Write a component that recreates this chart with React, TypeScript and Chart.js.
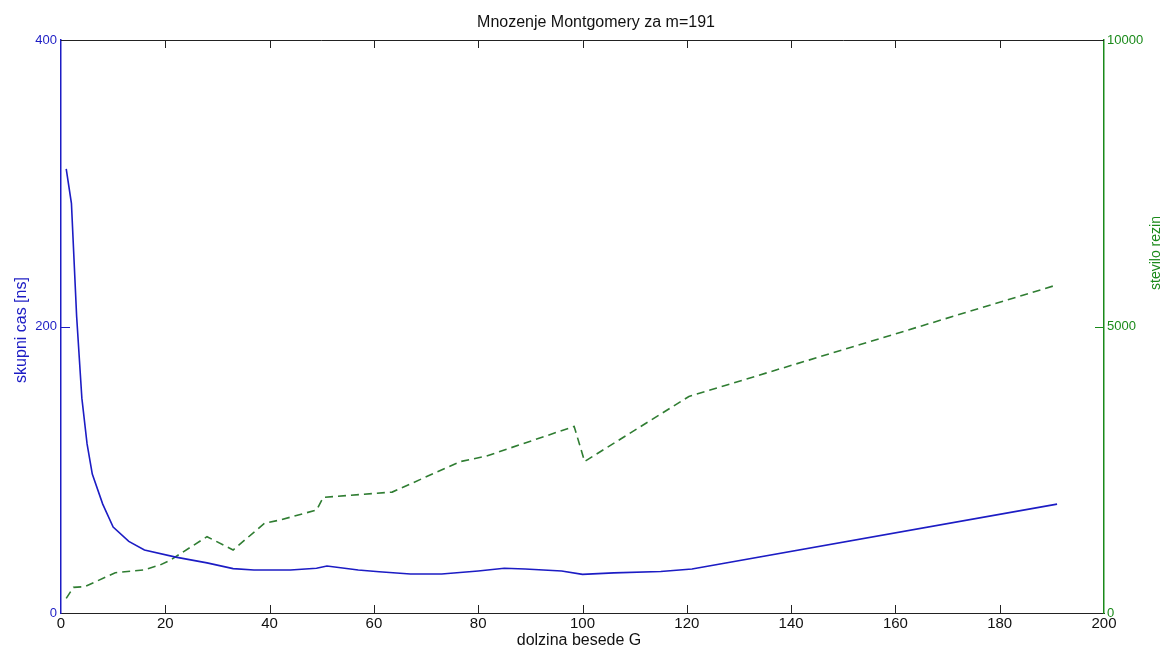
import React, { useEffect, useRef } from "react";
import { Chart, registerables } from "chart.js";

Chart.register(...registerables);

// Blue series: total time [ns] vs word length G
const timeG = [1, 2, 3, 4, 5, 6, 8, 10, 13, 16, 22, 28, 33, 37, 44, 49, 51, 57, 61, 67, 73, 80, 85, 89, 96, 100, 106, 115, 121, 191];
const timeNs = [310, 286, 207, 150, 118, 97, 76, 60, 50, 44, 39, 35, 31, 30, 30, 31.2, 32.8, 30, 28.8, 27.2, 27.2, 29.3, 31.2, 30.7, 29.3, 27, 28, 29, 30.7, 76];

// Green series: number of slices vs word length G
const sliceG = [1, 2.4, 4.6, 10.4, 15.8, 19, 21, 28, 33, 39, 42, 49, 50.3, 63.5, 76.5, 81.6, 98.4, 100.4, 120.4, 191];
const sliceCount = [256, 448, 460, 704, 750, 838, 925, 1332, 1099, 1565, 1623, 1797, 2019, 2110, 2641, 2740, 3256, 2645, 3779, 5727];

const xTicks = [0, 20, 40, 60, 80, 100, 120, 140, 160, 180, 200];
const leftTicks = [0, 200, 400];
const rightTicks = [0, 5000, 10000];

const TITLE = "Mnozenje Montgomery za m=191";
const X_LABEL = "dolzina besede G";
const Y_LABEL = "skupni cas [ns]";
const Y1_LABEL = "stevilo rezin";

const BLUE = "#1c1cc4";
const GREEN = "#2f7d32";
const AXIS_GREEN = "#1a8a1a";
const FONT = "'Liberation Sans', Arial, sans-serif";

const decor = {
  id: "decor",
  afterDraw(chart: any) {
    const { ctx, chartArea } = chart;
    const { left, right, top, bottom } = chartArea;
    const xs = chart.scales.x;
    const ys = chart.scales.y;
    const y1 = chart.scales.y1;
    ctx.save();
    // top border
    ctx.strokeStyle = "#222";
    ctx.lineWidth = 1;
    ctx.beginPath();
    ctx.moveTo(left, top + 0.5);
    ctx.lineTo(right, top + 0.5);
    ctx.stroke();
    // inward x ticks
    xTicks.forEach((t) => {
      if (t === 0 || t === 200) return;
      const px = Math.round(xs.getPixelForValue(t)) + 0.5;
      ctx.beginPath();
      ctx.moveTo(px, bottom);
      ctx.lineTo(px, bottom - 8);
      ctx.moveTo(px, top);
      ctx.lineTo(px, top + 8);
      ctx.stroke();
    });
    // inward y ticks
    ctx.strokeStyle = BLUE;
    const py = Math.round(ys.getPixelForValue(200)) + 0.5;
    ctx.beginPath();
    ctx.moveTo(left, py);
    ctx.lineTo(left + 9, py);
    ctx.stroke();
    ctx.strokeStyle = AXIS_GREEN;
    const py1 = Math.round(y1.getPixelForValue(5000)) + 0.5;
    ctx.beginPath();
    ctx.moveTo(right, py1);
    ctx.lineTo(right - 9, py1);
    ctx.stroke();

    // texts
    ctx.textAlign = "center";
    ctx.textBaseline = "middle";
    ctx.fillStyle = "#111";
    ctx.font = `16px ${FONT}`;
    ctx.fillText(TITLE, 596, 23);
    ctx.fillText(X_LABEL, 579, 641);

    ctx.save();
    ctx.translate(22, 330);
    ctx.rotate(-Math.PI / 2);
    ctx.fillStyle = BLUE;
    ctx.font = `16px ${FONT}`;
    ctx.fillText(Y_LABEL, 0, 0);
    ctx.restore();

    ctx.save();
    ctx.translate(1156, 253);
    ctx.rotate(-Math.PI / 2);
    ctx.fillStyle = AXIS_GREEN;
    ctx.font = `14px ${FONT}`;
    ctx.fillText(Y1_LABEL, 0, 0);
    ctx.restore();

    ctx.restore();
  },
};

export default function App() {
  const ref = useRef<HTMLCanvasElement | null>(null);

  useEffect(() => {
    document.body.style.margin = "0";
    if (!ref.current) return;
    const chart = new Chart(ref.current, {
      type: "line",
      data: {
        datasets: [
          {
            label: Y_LABEL,
            data: timeG.map((g, i) => ({ x: g, y: timeNs[i] })),
            borderColor: BLUE,
            borderWidth: 1.6,
            pointRadius: 0,
            tension: 0,
            yAxisID: "y",
          },
          {
            label: Y1_LABEL,
            data: sliceG.map((g, i) => ({ x: g, y: sliceCount[i] })),
            borderColor: GREEN,
            borderWidth: 1.6,
            borderDash: [8, 5],
            pointRadius: 0,
            tension: 0,
            yAxisID: "y1",
          },
        ],
      },
      options: {
        animation: false,
        responsive: true,
        maintainAspectRatio: false,
        layout: { padding: { top: 40, left: 0, right: 0, bottom: 0 } },
        plugins: {
          legend: { display: false },
          title: { display: false },
          tooltip: { enabled: false },
        },
        scales: {
          x: {
            type: "linear",
            min: 0,
            max: 200,
            afterBuildTicks: (s: any) => {
              s.ticks = xTicks.map((v) => ({ value: v }));
            },
            afterFit: (s: any) => {
              s.height = 40;
            },
            ticks: {
              color: "#111",
              font: { family: FONT, size: 15 },
              padding: 2,
              maxRotation: 0,
              callback: (v: any) => String(v),
            },
            grid: { display: false, drawTicks: false },
            border: { display: true, color: "#222", width: 1 },
          },
          y: {
            type: "linear",
            position: "left",
            min: 0,
            max: 400,
            afterBuildTicks: (s: any) => {
              s.ticks = leftTicks.map((v) => ({ value: v }));
            },
            afterFit: (s: any) => {
              s.width = 61;
            },
            ticks: {
              color: BLUE,
              font: { family: FONT, size: 13 },
              padding: 4,
              callback: (v: any) => String(v),
            },
            grid: { display: false, drawTicks: false },
            border: { display: true, color: BLUE, width: 1.5 },
          },
          y1: {
            type: "linear",
            position: "right",
            min: 0,
            max: 10000,
            afterBuildTicks: (s: any) => {
              s.ticks = rightTicks.map((v) => ({ value: v }));
            },
            afterFit: (s: any) => {
              s.width = 60;
            },
            ticks: {
              color: AXIS_GREEN,
              font: { family: FONT, size: 13 },
              padding: 3,
              callback: (v: any) => String(v),
            },
            grid: { display: false, drawTicks: false },
            border: { display: true, color: AXIS_GREEN, width: 1.5 },
          },
        },
      },
      plugins: [decor],
    });
    return () => chart.destroy();
  }, []);

  return (
    <div style={{ width: 1164, height: 653, position: "relative", background: "#fff" }}>
      <canvas ref={ref} style={{ display: "block" }} />
    </div>
  );
}
